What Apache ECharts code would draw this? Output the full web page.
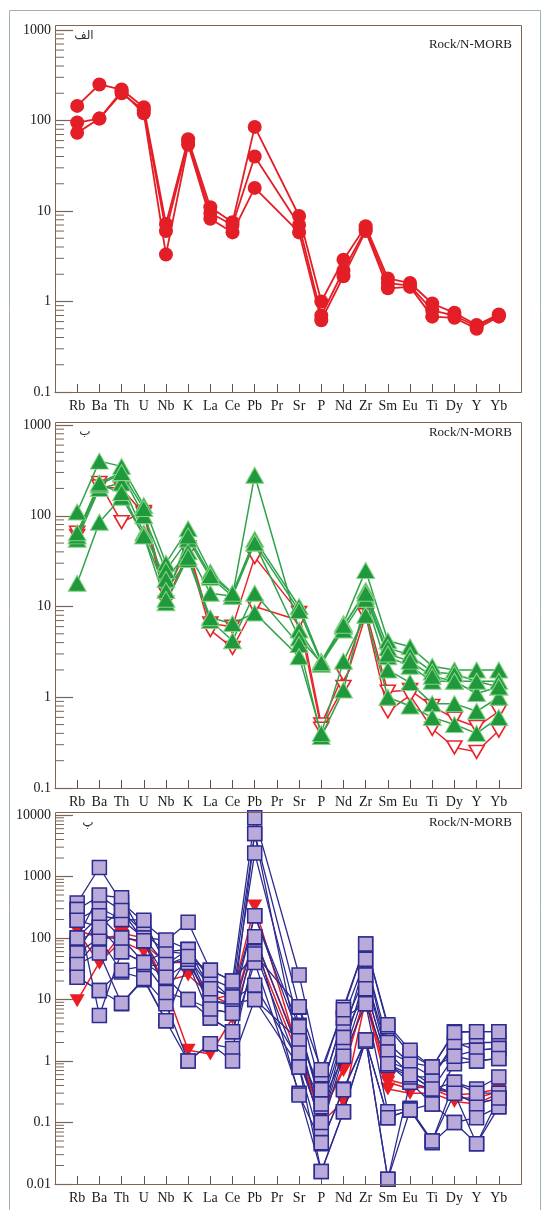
<!DOCTYPE html>
<html>
<head>
<meta charset="utf-8">
<script src="https://cdn.jsdelivr.net/npm/echarts@6/dist/echarts.min.js"></script>
<style>
html,body{margin:0;padding:0;background:#fff;}
#chart{width:548px;height:1210px;}
</style>
</head>
<body>
<div id="chart"></div>
<script>
// ---------- DATA ----------
var elements = ['Rb','Ba','Th','U','Nb','K','La','Ce','Pb','Pr','Sr','P','Nd','Zr','Sm','Eu','Ti','Dy','Y','Yb'];
var yTicks1 = [0.1, 1, 10, 100, 1000];
var yTicks2 = [0.1, 1, 10, 100, 1000];
var yTicks3 = [0.01, 0.1, 1, 10, 100, 1000, 10000];
var minorMultipliers = [2, 3, 4, 5, 6, 7, 8, 9];

// Panel 1 (red circles)
var p1_a = [145, 250, 220, 140, 7.2, 62, 11, 7.5, 85, null, 8.8, 1.0, 2.9, 6.8, 1.8, 1.6, 0.95, 0.75, 0.55, 0.72];
var p1_b = [95, 105, 200, 130, 6.0, 58, 9.5, 7.0, 40, null, 7.0, 0.7, 2.2, 6.3, 1.6, 1.5, 0.8, 0.7, 0.53, 0.7];
var p1_c = [73, 105, 210, 120, 3.3, 54, 8.2, 5.8, 18, null, 5.8, 0.62, 1.9, 6.0, 1.4, 1.45, 0.68, 0.66, 0.5, 0.68];

// Panel 2 (green triangles, red open inverted triangles)
var p2_g1 = [110, 400, 350, 130, 30, 72, 24, 14, 55, null, 10, 2.5, 6.5, 25, 4.2, 3.6, 2.2, 2.0, 2.0, 2.0];
var p2_g2 = [60, 220, 290, 100, 25, 55, 21, 13, 280, null, 5.5, 2.3, 6.0, 15, 3.5, 2.9, 1.9, 1.8, 1.5, 1.5];
var p2_g3 = [55, 200, 230, 65, 20, 40, 14, 13, 50, null, 4.5, 2.4, 5.5, 13, 2.8, 2.2, 1.5, 1.5, 1.1, 1.3];
var p2_g4 = [18, 85, 160, 60, 15, 33, 7, 4.2, 14, null, 3.8, 0.37, 1.2, 12, 2.0, 1.45, 0.85, 0.85, 0.7, 1.0];
var p2_g5 = [60, 220, 180, 60, 11, 35, 7.5, 6.5, 8.5, null, 2.8, 0.4, 2.5, 8, 1.0, 0.8, 0.6, 0.5, 0.4, 0.6];
var p2_g6 = [65, 230, 300, 120, 12, 60, 22, 14, 50, null, 9, 2.4, 6.2, 14, 3.0, 2.5, 1.7, 1.5, 1.5, 1.3];
var p2_r1 = [60, 230, 85, 110, 14, 45, 6.5, 6, 35, null, 8.5, 0.5, 1.8, 9, 1.15, 1.2, 0.8, 0.58, 0.47, 0.7];
var p2_r2 = [65, 210, 200, 105, 11, 40, 5.5, 3.5, 10, null, 7, 0.45, 1.3, 8, 0.7, 1.05, 0.45, 0.28, 0.25, 0.43];

// Panel 3 (blue squares, red filled inverted triangles)
var p3_b1  = [370, 1400, 380, 180, 90, 180, 30, 20, 9000, null, 25, 0.6, 7.5, 80, 3.6, 1.3, 0.8, 3.0, 3.0, 3.0];
var p3_b2  = [290, 480, 280, 120, 60, 65, 22, 15, 5000, null, 7.5, 0.35, 5, 45, 2.0, 0.9, 0.55, 1.8, 2.0, 2.0];
var p3_b3  = [195, 310, 200, 100, 37, 50, 15, 11, 2400, null, 3.8, 0.2, 3.5, 25, 1.4, 0.6, 0.35, 1.2, 1.5, 1.6];
var p3_b4  = [100, 230, 100, 90, 23, 40, 9.5, 8, 230, null, 2.5, 0.1, 2.4, 15, 0.9, 0.45, 0.2, 0.9, 1.0, 1.1];
var p3_b5  = [83, 150, 60, 40, 13, 10, 7, 6, 105, null, 1.4, 0.08, 1.2, 8.5, 0.15, 0.17, 0.05, 0.45, 0.35, 0.55];
var p3_b6  = [57, 100, 28, 22, 8.5, 1.0, 1.9, 1.6, 60, null, 0.8, 0.045, 0.35, 2.2, 0.012, 0.45, 0.35, 0.3, 0.2, 0.25];
var p3_b7  = [37, 57, 8.5, 21, 4.5, 40, 5, 3, 40, null, 0.3, 0.016, 0.15, 2.2, 0.12, 0.16, 0.047, 0.1, 0.045, 0.18];
var p3_b8  = [23, 14, 30, 35, 37, 65, 21, 10, 17, null, 1.0, 0.1, 1.5, 25, 1.0, 0.7, 0.4, 0.3, 0.2, 0.25];
var p3_b9  = [290, 5.5, 60, 40, 60, 55, 9.5, 8.7, 10, null, 2.2, 0.34, 5, 8.5, 0.85, 0.55, 0.55, 2.0, 1.5, 1.6];
var p3_b10 = [100, 500, 450, 100, 93, 65, 15, 11, 230, null, 3.6, 0.18, 2.4, 45, 1.4, 0.95, 0.8, 1.2, 1.0, 1.1];
var p3_b11 = [57, 230, 200, 195, 37, 45, 30, 20, 55, null, 7.6, 0.72, 6.8, 80, 3.9, 1.5, 0.8, 2.9, 3.0, 3.0];
var p3_b12 = [37, 100, 100, 40, 23, 10, 5, 3, 105, null, 0.28, 0.047, 0.34, 2.1, 0.12, 0.16, 0.2, 0.1, 0.12, 0.18];
var p3_b13 = [195, 150, 280, 90, 13, 50, 7, 6, 5000, null, 1.35, 0.2, 1.2, 15, 0.9, 0.6, 0.35, 0.45, 0.3, 0.3];
var p3_b14 = [23, 14, 8.7, 22, 4.5, 1.0, 1.9, 1.0, 10, null, 0.8, 0.016, 0.15, 2.2, 0.012, 0.16, 0.05, 0.3, 0.045, 0.25];
var p3_r1 = [135, 100, 110, 80, 40, 40, 10, 12, 330, null, 1.3, 0.12, 0.8, 12, 0.5, 0.4, 0.35, 0.25, 0.25, 0.32];
var p3_r2 = [130, 39, 120, 100, 15, 1.5, 1.3, 5, 72, null, 1.1, 0.1, 0.22, 10, 0.35, 0.3, 0.3, 0.22, 0.2, 0.3];
var p3_r3 = [9.5, 40, 90, 60, 20, 25, 12, 8, 100, null, 1.5, 0.13, 0.7, 12, 0.45, 0.35, 0.4, 0.28, 0.3, 0.35];

// ---------- BUILD ----------
function pairs(arr) {
  var out = [];
  arr.forEach(function (v, i) { if (v != null) out.push([i + 1, v]); });
  return out;
}
var AX = '#7d6454';
var serif = '"Liberation Serif", "DejaVu Serif", serif';

function minorData(majors) {
  var out = [];
  for (var i = 0; i < majors.length - 1; i++) {
    minorMultipliers.forEach(function (m) { out.push([0, majors[i] * m]); });
  }
  return out;
}
function minorSeries(idx, majors) {
  return {
    type: 'custom', xAxisIndex: idx, yAxisIndex: idx, silent: true, z: 1,
    data: minorData(majors),
    renderItem: function (params, api) {
      var p = api.coord([api.value(0), api.value(1)]);
      return { type: 'line', shape: { x1: p[0], y1: p[1], x2: p[0] + 9, y2: p[1] },
               style: { stroke: AX, lineWidth: 1 } };
    }
  };
}

var grids = [
  { left: 55, top: 30, width: 466, height: 362 },
  { left: 55, top: 425, width: 466, height: 363 },
  { left: 55, top: 815, width: 466, height: 369 }
];
var ranges = [[yTicks1[0], yTicks1[yTicks1.length - 1]], [yTicks2[0], yTicks2[yTicks2.length - 1]], [yTicks3[0], yTicks3[yTicks3.length - 1]]];

var xAxes = grids.map(function (g, i) {
  return {
    type: 'value', gridIndex: i, min: 0, max: 21, interval: 1,
    axisLine: { show: true, lineStyle: { color: AX, width: 1 } },
    axisTick: { show: true, inside: true, length: 8, lineStyle: { color: '#555' } },
    splitLine: { show: false },
    axisLabel: {
      margin: 7, color: '#1a1a1a', fontFamily: serif, fontSize: 14,
      formatter: function (v) { return elements[v - 1] || ''; }
    }
  };
});
var yAxes = grids.map(function (g, i) {
  return {
    type: 'log', logBase: 10, gridIndex: i, min: ranges[i][0], max: ranges[i][1], splitNumber: 10,
    axisLine: { show: true, lineStyle: { color: AX, width: 1 } },
    axisTick: { show: true, inside: true, length: 18, lineStyle: { color: AX, width: 1.2 } },
    splitLine: { show: false },
    axisLabel: { margin: 4, color: '#1a1a1a', fontFamily: serif, fontSize: 14,
      formatter: function (v) { return String(+v.toPrecision(6)); } }
  };
});

var RED = '#E41E26';
var series = [];
// panel 1
[p1_a, p1_b, p1_c].forEach(function (arr) {
  series.push({ type: 'line', xAxisIndex: 0, yAxisIndex: 0, data: pairs(arr),
    symbol: 'circle', symbolSize: 14, z: 3,
    lineStyle: { color: RED, width: 1.8 }, itemStyle: { color: RED, borderWidth: 0 } });
});
// panel 2 red open inverted triangles
var invTri = 'path://M0,0L10,0L5,9Z';
[p2_r1, p2_r2].forEach(function (arr) {
  series.push({ type: 'line', xAxisIndex: 1, yAxisIndex: 1, data: pairs(arr),
    symbol: invTri, symbolSize: [15, 13], z: 3,
    lineStyle: { color: '#E8252B', width: 1.5 },
    itemStyle: { color: '#ffffff', borderColor: '#E8252B', borderWidth: 1.6 } });
});
[p2_g1, p2_g2, p2_g3, p2_g4, p2_g5, p2_g6].forEach(function (arr) {
  series.push({ type: 'line', xAxisIndex: 1, yAxisIndex: 1, data: pairs(arr),
    symbol: 'triangle', symbolSize: [18, 16], z: 4,
    lineStyle: { color: '#2EA34A', width: 1.5 },
    itemStyle: { color: '#20993D', borderColor: '#86D486', borderWidth: 1 } });
});
// panel 3 red filled inverted triangles
[p3_r1, p3_r2, p3_r3].forEach(function (arr) {
  series.push({ type: 'line', xAxisIndex: 2, yAxisIndex: 2, data: pairs(arr),
    symbol: invTri, symbolSize: [15, 13], z: 3,
    lineStyle: { color: '#EC1C24', width: 1.5 },
    itemStyle: { color: '#EC1C24', borderWidth: 0 } });
});
[p3_b1, p3_b2, p3_b3, p3_b4, p3_b5, p3_b6, p3_b7, p3_b8, p3_b9, p3_b10, p3_b11, p3_b12, p3_b13, p3_b14].forEach(function (arr) {
  series.push({ type: 'line', xAxisIndex: 2, yAxisIndex: 2, data: pairs(arr),
    symbol: 'rect', symbolSize: 14, z: 4,
    lineStyle: { color: '#2D2B8F', width: 1.3 },
    itemStyle: { color: '#B9AADA', borderColor: '#2D2B8F', borderWidth: 1.5 } });
});
series.push(minorSeries(0, yTicks1));
series.push(minorSeries(1, yTicks2));
series.push(minorSeries(2, yTicks3));

var frames = [[55, 25, 466, 367], [55, 422, 466, 366], [55, 812, 466, 372]];
var labelY = [45, 433, 823];
var arabic = [['الف', 84, 36], ['ب', 85, 432], ['پ', 88, 823]];
var graphic = [
  { type: 'rect', shape: { x: 9.5, y: 10.5, width: 531, height: 1210 }, style: { fill: 'none', stroke: '#9fb0bb', lineWidth: 1 }, silent: true }
];
frames.forEach(function (f) {
  graphic.push({ type: 'rect', shape: { x: f[0] + 0.5, y: f[1] + 0.5, width: f[2], height: f[3] },
    style: { fill: 'none', stroke: AX, lineWidth: 1 }, silent: true, z: 10 });
});
labelY.forEach(function (y) {
  graphic.push({ type: 'text', x: 512, y: y, style: { text: 'Rock/N-MORB', fill: '#222', font: '13px ' + serif, align: 'right', verticalAlign: 'middle' }, silent: true, z: 11 });
});
arabic.forEach(function (a) {
  graphic.push({ type: 'text', x: a[1], y: a[2], style: { text: a[0], fill: '#333', font: '12px "DejaVu Sans", "Noto Sans", sans-serif', align: 'center', verticalAlign: 'middle' }, silent: true, z: 11 });
});

var chart = echarts.init(document.getElementById('chart'), null, { renderer: 'canvas' });
chart.setOption({
  animation: false,
  backgroundColor: '#ffffff',
  grid: grids,
  xAxis: xAxes,
  yAxis: yAxes,
  series: series,
  graphic: graphic
});
</script>
</body>
</html>
